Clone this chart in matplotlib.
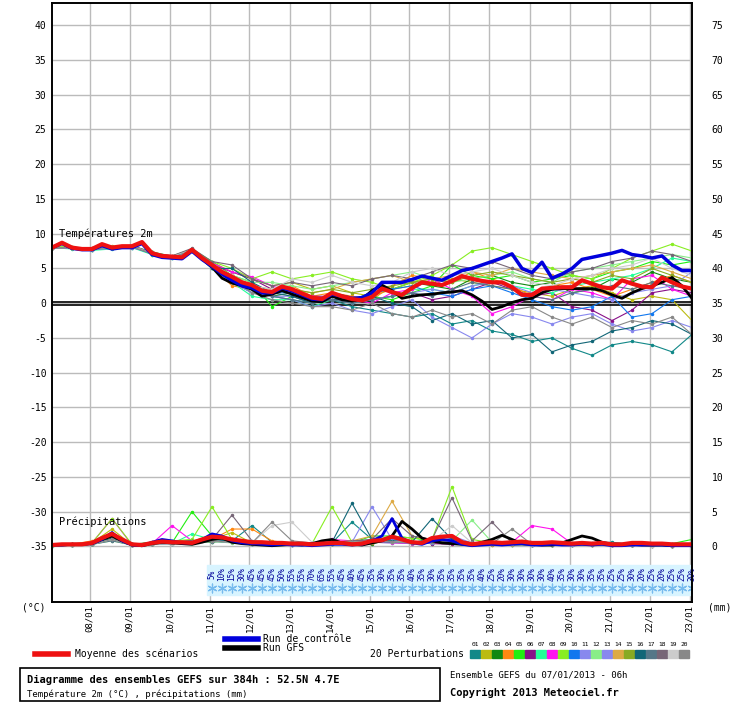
import matplotlib
matplotlib.use("Agg")
import matplotlib.pyplot as plt
import numpy as np

plt.rcParams["font.family"] = ["DejaVu Sans Mono"]

# time axis: hours from 07/01/2013 06h
hours6 = list(range(0, 385, 6))
hours12 = list(range(0, 385, 12))
day_labels = ["08/01", "09/01", "10/01", "11/01", "12/01", "13/01", "14/01", "15/01",
              "16/01", "17/01", "18/01", "19/01", "20/01", "21/01", "22/01", "23/01"]
day_ticks = [22.5 + 24 * k for k in range(16)]

mean_t = [8.0, 8.7, 8.0, 7.8, 7.8, 8.5, 8.0, 8.2, 8.2, 8.8, 7.2, 6.8, 6.7, 6.6, 7.7, 6.5,
          5.5, 4.5, 3.8, 3.0, 2.6, 1.8, 1.6, 2.4, 2.0, 1.4, 0.8, 0.6, 1.5, 1.0, 0.6, 0.4,
          0.9, 2.1, 1.6, 1.2, 2.2, 3.0, 2.8, 2.6, 3.2, 3.9, 3.5, 3.2, 3.0, 3.0, 2.3, 1.2,
          1.2, 2.1, 2.2, 2.3, 2.3, 3.3, 2.8, 2.3, 2.1, 3.3, 2.8, 2.4, 2.3, 3.7, 3.0, 2.4, 2.1]
control_t = [8.0, 8.6, 7.9, 7.7, 7.7, 8.3, 7.8, 8.0, 8.0, 8.6, 7.0, 6.6, 6.5, 6.4, 7.5, 6.3,
             5.3, 4.2, 3.3, 2.5, 2.2, 1.5, 1.5, 2.2, 1.8, 1.2, 0.6, 0.5, 1.3, 1.0, 0.7, 0.8,
             1.5, 3.0, 3.0, 3.0, 3.4, 3.9, 3.6, 3.3, 4.0, 4.7, 5.0, 5.5, 6.0, 6.5, 7.1, 5.0,
             4.4, 5.9, 3.6, 4.2, 5.0, 6.3, 6.6, 6.9, 7.2, 7.6, 7.0, 6.8, 6.5, 6.8, 5.5, 4.7, 4.7]
gfs_t = [8.0, 8.6, 7.9, 7.8, 7.7, 8.4, 7.9, 8.1, 8.1, 8.7, 7.1, 6.7, 6.6, 6.5, 7.6, 6.4,
         5.2, 3.6, 2.9, 2.5, 2.0, 1.0, 1.3, 1.8, 1.3, 0.8, 0.3, 0.2, 1.0, 0.5, 0.3, 0.6,
         1.8, 2.6, 1.8, 0.7, 1.0, 1.2, 1.3, 1.5, 1.6, 1.8, 1.2, 0.3, -0.9, -0.5, 0.1, 0.5,
         0.7, 1.5, 2.0, 2.1, 2.1, 2.1, 2.1, 1.8, 1.2, 0.7, 1.5, 2.1, 2.5, 3.0, 3.7, 2.5, 0.7]

pert_t = [
    [8.0, 7.9, 7.7, 7.9, 8.0, 7.3, 6.5, 7.5, 5.8, 3.0, 1.5, 1.0, 0.5, 0.0, 0.5, -0.5, -1.0, -1.5, -2.0, -1.5, -3.0, -2.5, -4.0, -4.5, -5.5, -5.0, -6.5, -7.5, -6.0, -5.5, -6.0, -7.0, -4.5],
    [8.1, 8.0, 7.9, 8.2, 8.3, 7.0, 6.8, 7.6, 5.9, 4.5, 3.5, 2.5, 3.0, 2.0, 2.5, 1.5, 1.0, 2.0, 2.5, 3.0, 3.5, 3.0, 2.5, 2.0, 1.5, 1.0, 2.0, 2.5, 1.5, 0.5, 1.0, 0.5, -2.5],
    [8.0, 8.1, 7.7, 8.1, 8.1, 7.1, 6.6, 7.8, 5.0, 3.5, 2.0, 1.0, 1.5, 0.5, 1.0, 0.5, 1.5, 2.0, 3.0, 2.5, 2.0, 3.5, 4.0, 3.0, 2.5, 3.0, 1.5, 2.0, 3.5, 3.0, 4.5, 3.5, 3.0],
    [7.9, 8.0, 7.8, 7.9, 8.2, 7.2, 6.7, 7.6, 5.2, 2.5, 2.0, 1.5, 2.5, 1.0, 1.5, 1.0, 0.5, 2.5, 4.0, 3.5, 3.0, 4.5, 3.5, 2.5, 1.0, 2.5, 3.0, 2.0, 1.0, 2.0, 3.0, 4.0, 3.0],
    [8.0, 7.9, 7.8, 8.0, 8.2, 7.4, 6.7, 7.7, 6.0, 4.0, 3.0, -0.5, 1.0, 0.0, 0.5, 0.5, 1.0, 0.5, 1.5, 2.5, 5.5, 4.0, 3.5, 4.0, 3.0, 3.5, 4.0, 3.5, 4.5, 5.0, 6.0, 5.5, 6.0],
    [8.0, 8.0, 7.8, 8.0, 8.1, 7.2, 6.6, 7.8, 5.5, 4.5, 3.5, 2.0, 1.5, 1.0, 1.0, 0.0, 0.5, 1.0, 1.5, 0.5, 1.0, 2.0, 3.0, 2.0, 1.0, 1.5, -0.5, -1.0, -2.5, -1.0, 1.5, 2.0, 1.5],
    [8.0, 7.8, 7.6, 7.8, 8.0, 7.0, 6.5, 7.5, 5.0, 3.0, 1.0, 0.5, 0.5, -0.5, 0.5, 0.0, 0.5, 1.0, 2.0, 2.0, 1.5, 2.5, 3.0, 2.5, 2.0, 1.5, 2.5, 3.0, 3.5, 4.0, 5.0, 6.5, 6.0],
    [8.0, 8.0, 7.9, 8.1, 8.3, 7.2, 6.8, 7.6, 5.8, 4.5, 3.8, 2.5, 1.5, 1.0, 0.5, 0.5, 0.0, 1.5, 2.0, 3.5, 2.0, 1.0, -1.5, -0.5, 1.0, 0.5, 2.0, 1.5, 0.5, 3.5, 4.0, 2.0, 1.0],
    [8.1, 8.1, 7.8, 8.0, 8.2, 7.3, 6.7, 7.8, 6.0, 5.0, 3.5, 4.5, 3.5, 4.0, 4.5, 3.5, 3.0, 2.0, 3.0, 4.0, 5.5, 7.5, 8.0, 7.0, 6.0, 5.0, 4.0, 3.5, 5.0, 6.5, 7.5, 8.5, 7.5],
    [8.0, 8.0, 7.8, 8.0, 8.1, 7.2, 6.7, 7.7, 5.4, 3.5, 2.0, 1.5, 1.5, 0.5, 1.0, 0.5, 1.5, 2.0, 2.5, 1.5, 1.0, 2.0, 2.5, 1.5, 0.5, -0.5, -1.0, -0.5, 1.0, -2.0, -1.5, 0.5, 1.0],
    [7.9, 7.9, 7.7, 7.9, 8.1, 7.1, 6.5, 7.5, 5.0, 3.0, 1.5, 1.0, 1.0, 0.0, 0.5, 0.0, 0.5, 1.0, 1.5, 2.0, 1.5, 2.5, 3.0, 2.5, 1.5, 2.0, 1.5, 1.0, 0.5, 1.5, 2.0, 2.5, 4.5],
    [8.0, 8.0, 7.8, 8.1, 8.2, 7.3, 6.8, 7.8, 5.5, 4.0, 3.0, 3.0, 2.5, 2.0, 2.5, 3.0, 3.5, 4.0, 4.5, 3.5, 3.0, 3.5, 4.0, 4.5, 3.5, 3.0, 4.5, 5.0, 5.5, 6.0, 6.5, 7.0, 6.5],
    [8.0, 7.9, 7.8, 8.0, 8.0, 7.2, 6.6, 7.6, 5.3, 3.0, 2.0, 1.0, 0.5, -0.5, 0.0, -1.0, -1.5, -0.5, 0.5, -2.0, -3.5, -5.0, -3.0, -1.5, -2.0, -3.0, -2.0, -1.5, -3.0, -4.0, -3.5, -2.5, -3.5],
    [8.0, 8.0, 7.9, 8.0, 8.2, 7.2, 6.7, 7.7, 5.6, 4.0, 2.5, 2.0, 2.0, 1.5, 2.0, 3.0, 3.5, 4.0, 3.0, 3.5, 4.0, 4.5, 4.0, 5.0, 4.5, 4.0, 3.5, 4.0, 4.5, 5.0, 5.5, 4.5, 3.5],
    [8.0, 8.0, 7.8, 8.0, 8.1, 7.2, 6.7, 7.7, 5.5, 4.0, 2.5, 1.5, 2.0, 1.5, 2.0, 1.5, 2.0, 2.5, 3.0, 3.5, 3.0, 4.0, 4.5, 4.0, 3.5, 3.0, 3.5, 3.0, 4.0, 3.5, 5.0, 4.0, 3.0],
    [8.0, 8.0, 7.8, 8.0, 8.2, 7.2, 6.7, 7.7, 5.0, 5.0, 3.0, 1.5, 1.0, 0.0, 0.5, 0.5, 1.0, 0.0, -0.5, -2.5, -1.5, -3.0, -2.5, -5.0, -4.5, -7.0, -6.0, -5.5, -4.0, -3.5, -2.5, -3.0, -4.5],
    [8.0, 8.0, 7.8, 7.9, 8.1, 7.1, 6.6, 7.6, 5.5, 3.5, 2.0, 1.0, 0.5, 0.0, 0.5, 0.0, 0.5, 1.0, 1.5, 1.0, 2.0, 3.0, 2.5, 2.0, 1.0, 0.5, 1.5, 2.0, 2.5, 2.0, 3.0, 2.5, 2.0],
    [8.0, 8.0, 7.8, 8.1, 8.3, 7.3, 6.8, 7.9, 6.0, 5.5, 3.5, 2.5, 3.0, 2.5, 3.0, 2.5, 3.5, 4.0, 3.5, 4.5, 5.5, 5.0, 6.0, 5.0, 4.0, 3.5, 4.5, 5.0, 6.0, 6.5, 7.5, 7.0, 6.0],
    [8.0, 8.0, 7.8, 8.0, 8.2, 7.2, 6.7, 7.7, 5.5, 4.0, 2.5, 2.0, 3.5, 3.0, 4.0, 3.0, 2.5, 3.0, 4.5, 5.0, 4.0, 4.5, 5.0, 4.0, 3.0, 2.5, 3.5, 4.0, 5.0, 5.5, 6.5, 5.0, 4.0],
    [8.0, 8.0, 7.8, 8.0, 8.1, 7.2, 6.6, 7.6, 5.2, 3.5, 1.5, 0.5, 0.0, -0.5, -0.5, -1.0, 0.0, -1.5, -2.0, -1.0, -2.0, -1.5, -3.0, -1.0, -0.5, -2.0, -3.0, -2.0, -3.5, -2.5, -3.0, -2.0, -4.5],
]

mean_p = [0.2, 0.3, 0.3, 0.3, 0.5, 1.2, 1.8, 1.0, 0.3, 0.2, 0.5, 0.7, 0.6, 0.6, 0.5, 1.0,
          1.4, 1.3, 1.0, 0.8, 0.6, 0.6, 0.5, 0.5, 0.4, 0.4, 0.3, 0.4, 0.5, 0.5, 0.3, 0.4,
          0.8, 0.9, 1.4, 1.0, 0.6, 0.5, 1.2, 1.4, 1.5, 0.6, 0.3, 0.5, 0.6, 0.5, 0.6, 0.7,
          0.5, 0.5, 0.6, 0.5, 0.4, 0.5, 0.4, 0.5, 0.3, 0.3, 0.5, 0.5, 0.4, 0.4, 0.3, 0.3, 0.3]
control_p = [0.2, 0.2, 0.3, 0.3, 0.4, 1.0, 2.0, 0.8, 0.2, 0.1, 0.6, 1.0, 0.8, 0.5, 0.5, 1.0,
             1.8, 1.5, 0.8, 0.5, 0.4, 0.3, 0.2, 0.3, 0.2, 0.2, 0.1, 0.2, 0.3, 0.3, 0.2, 0.3,
             0.8, 1.5, 4.0, 1.2, 0.5, 0.3, 0.8, 1.0, 0.8, 0.3, 0.1, 0.2, 0.3, 0.2, 0.3, 0.4,
             0.2, 0.2, 0.3, 0.2, 0.2, 0.3, 0.2, 0.3, 0.1, 0.1, 0.2, 0.2, 0.2, 0.2, 0.1, 0.1, 0.1]
gfs_p = [0.2, 0.2, 0.3, 0.3, 0.4, 1.0, 1.5, 0.8, 0.2, 0.1, 0.4, 0.6, 0.5, 0.4, 0.3, 0.6,
         1.0, 1.2, 0.6, 0.4, 0.3, 0.2, 0.1, 0.2, 0.3, 0.2, 0.4, 0.8, 1.0, 0.5, 0.3, 0.2,
         0.5, 0.8, 1.5, 3.6, 2.5, 1.2, 0.8, 0.5, 0.4, 0.3, 0.2, 0.6, 1.0, 1.6, 1.0, 0.4,
         0.3, 0.2, 0.2, 0.5, 1.0, 1.5, 1.2, 0.6, 0.3, 0.2, 0.3, 0.2, 0.2, 0.2, 0.1, 0.2, 0.1]

pert_p = [
    [0.2, 0.3, 0.4, 1.0, 0.3, 0.5, 0.6, 0.8, 1.2, 0.8, 3.0, 0.6, 0.4, 0.3, 0.5, 3.5, 1.0, 0.6, 0.5, 1.2, 0.8, 0.4, 0.5, 0.3, 0.4, 0.2, 0.3, 0.5, 0.6, 0.3, 0.2, 0.3, 0.2],
    [0.2, 0.4, 0.5, 2.5, 0.2, 0.4, 0.8, 0.6, 1.0, 2.0, 0.5, 0.4, 0.3, 0.5, 0.4, 0.3, 0.6, 0.8, 0.5, 0.4, 0.6, 0.3, 0.2, 0.4, 0.3, 0.2, 0.3, 0.2, 0.4, 0.2, 0.3, 0.2, 0.2],
    [0.1, 0.2, 0.3, 1.5, 0.3, 0.6, 0.5, 0.8, 0.6, 1.0, 0.4, 0.3, 0.2, 0.4, 0.3, 0.5, 0.4, 1.0, 0.6, 0.8, 0.5, 0.3, 0.4, 0.2, 0.3, 0.2, 0.5, 0.3, 0.2, 0.3, 0.2, 0.1, 0.1],
    [0.2, 0.3, 0.8, 1.2, 0.2, 0.3, 0.6, 0.5, 1.0, 2.5, 2.5, 0.8, 0.4, 0.3, 0.6, 0.4, 0.5, 0.8, 0.6, 0.5, 0.4, 0.3, 0.2, 0.3, 0.2, 0.4, 0.3, 0.2, 0.3, 0.2, 0.1, 0.2, 0.1],
    [0.2, 0.2, 0.3, 2.0, 0.2, 0.4, 0.5, 5.0, 1.5, 0.8, 0.5, 0.4, 0.3, 0.4, 0.6, 0.5, 1.5, 1.5, 1.2, 0.8, 0.6, 0.4, 0.5, 0.3, 0.2, 0.3, 0.4, 0.3, 0.2, 0.3, 0.2, 0.4, 1.0],
    [0.1, 0.2, 0.3, 1.0, 0.2, 0.3, 0.4, 0.6, 0.8, 0.6, 0.4, 0.3, 0.2, 0.3, 0.4, 0.6, 1.0, 0.8, 0.6, 0.4, 0.3, 0.5, 0.4, 0.3, 0.2, 0.3, 0.2, 0.4, 0.3, 0.2, 0.3, 0.2, 0.1],
    [0.2, 0.3, 0.4, 1.5, 0.3, 0.5, 0.4, 1.8, 1.0, 0.6, 0.5, 0.4, 0.3, 0.4, 0.5, 0.4, 0.6, 0.5, 0.4, 0.6, 0.8, 0.5, 0.4, 0.3, 0.4, 0.3, 0.2, 0.3, 0.4, 0.3, 0.2, 0.3, 0.2],
    [0.2, 0.3, 0.5, 4.0, 0.2, 0.4, 3.0, 0.8, 1.0, 0.6, 0.5, 0.4, 0.3, 0.5, 1.0, 0.8, 0.6, 0.5, 0.4, 0.8, 0.6, 0.4, 0.5, 0.6, 3.0, 2.5, 0.4, 0.3, 0.2, 0.3, 0.2, 0.3, 0.2],
    [0.2, 0.3, 0.5, 4.0, 0.3, 0.5, 0.8, 1.0, 5.7, 1.0, 0.6, 0.4, 0.3, 0.4, 5.7, 0.6, 0.8, 1.5, 1.2, 1.0, 8.6, 1.0, 0.5, 0.4, 0.3, 0.2, 0.3, 0.4, 0.3, 0.2, 0.3, 0.2, 0.2],
    [0.1, 0.2, 0.3, 1.0, 0.2, 0.3, 0.5, 0.8, 1.0, 0.6, 0.4, 0.3, 0.2, 0.3, 0.4, 0.5, 0.8, 1.0, 0.6, 0.5, 1.2, 0.4, 0.3, 0.2, 0.3, 0.2, 0.3, 0.2, 0.3, 0.2, 0.1, 0.2, 0.1],
    [0.2, 0.2, 0.4, 1.2, 0.2, 0.4, 0.5, 0.7, 0.8, 0.6, 0.5, 0.3, 0.3, 0.4, 0.5, 0.6, 0.7, 0.6, 0.5, 0.7, 1.5, 0.5, 0.4, 0.3, 0.2, 0.3, 0.4, 0.3, 0.2, 0.3, 0.2, 0.2, 0.2],
    [0.1, 0.2, 0.3, 0.8, 0.2, 0.3, 0.4, 0.6, 0.7, 0.5, 0.4, 0.3, 0.2, 0.3, 0.4, 0.5, 0.6, 0.8, 0.5, 0.6, 0.8, 3.8, 0.6, 0.4, 0.3, 0.2, 0.3, 0.2, 0.3, 0.2, 0.2, 0.1, 0.1],
    [0.2, 0.2, 0.3, 1.0, 0.2, 0.3, 0.4, 0.6, 0.8, 0.6, 0.4, 0.3, 0.2, 0.4, 0.5, 0.6, 5.7, 1.0, 0.6, 0.5, 1.0, 0.5, 0.4, 0.3, 0.2, 0.3, 0.2, 0.3, 0.2, 0.2, 0.2, 0.1, 0.1],
    [0.2, 0.3, 0.4, 1.2, 0.3, 0.4, 0.6, 0.8, 1.5, 1.0, 0.5, 0.4, 0.3, 0.5, 0.6, 0.8, 1.5, 6.5, 1.5, 0.8, 0.6, 0.4, 0.3, 0.2, 0.3, 0.2, 0.3, 0.2, 0.3, 0.2, 0.2, 0.1, 0.1],
    [0.2, 0.2, 0.3, 1.0, 0.2, 0.4, 0.5, 0.6, 0.8, 0.7, 0.5, 0.4, 0.3, 0.4, 0.5, 0.6, 0.8, 0.7, 0.5, 0.6, 0.8, 0.5, 0.4, 0.3, 0.2, 0.3, 0.2, 0.3, 0.2, 0.2, 0.1, 0.2, 0.1],
    [0.2, 0.3, 0.4, 1.2, 0.3, 0.4, 0.6, 0.8, 1.0, 0.8, 0.6, 0.4, 0.3, 0.5, 0.6, 6.2, 1.0, 0.8, 0.6, 4.0, 1.0, 0.5, 0.4, 0.3, 0.2, 0.3, 0.2, 0.3, 0.2, 0.2, 0.2, 0.1, 0.1],
    [0.2, 0.2, 0.3, 0.8, 0.2, 0.3, 0.4, 0.6, 0.7, 0.6, 0.5, 0.4, 0.3, 0.4, 0.5, 0.6, 0.7, 0.6, 0.5, 0.6, 0.7, 0.5, 0.4, 0.3, 0.2, 0.3, 0.2, 0.3, 0.2, 0.2, 0.1, 0.1, 0.1],
    [0.2, 0.3, 0.4, 1.5, 0.3, 0.4, 0.6, 0.8, 1.0, 4.5, 0.8, 0.6, 0.4, 0.5, 0.6, 0.8, 1.0, 4.0, 1.5, 1.0, 7.0, 0.8, 3.5, 0.5, 0.3, 0.2, 0.3, 0.2, 0.3, 0.2, 0.2, 0.1, 0.1],
    [0.2, 0.2, 0.3, 1.0, 0.2, 0.3, 0.4, 0.6, 0.8, 0.6, 0.5, 3.0, 3.5, 0.6, 0.5, 0.6, 0.8, 0.7, 0.6, 0.8, 3.0, 0.5, 0.4, 0.3, 0.2, 0.3, 0.2, 0.3, 0.2, 0.2, 0.1, 0.1, 0.1],
    [0.2, 0.2, 0.3, 1.0, 0.2, 0.3, 0.5, 0.6, 0.8, 0.6, 0.5, 3.5, 0.8, 0.5, 0.4, 0.6, 0.8, 0.7, 0.5, 0.6, 0.8, 0.5, 0.4, 2.5, 0.3, 0.2, 0.3, 0.2, 0.3, 0.2, 0.2, 0.1, 0.1],
]

pert_colors = ["#118888", "#bbbb11", "#118811", "#ff8811", "#22ee11", "#881188", "#22ff99",
               "#ff11ee", "#88ee22", "#1177ee", "#8888ee", "#88ee88", "#8888ee", "#ddaa44",
               "#88aa22", "#116677", "#557788", "#776677", "#cccccc", "#888888"]

snow_hours = list(range(96, 385, 6))
snow_pct = [5, 10, 15, 30, 45, 45, 45, 50, 55, 55, 70, 65, 55, 45, 40, 45, 35, 30, 35, 35,
            40, 35, 30, 35, 35, 35, 35, 40, 25, 20, 30, 30, 30, 30, 40, 35, 30, 30, 35, 35,
            25, 25, 30, 20, 25, 20, 25, 25, 30]

P0 = -35  # precipitation baseline on the temperature scale

fig = plt.figure(figsize=(7.41, 7.03), dpi=100)
ax = fig.add_axes([52 / 741, 1 - 602 / 703, 640 / 741, 599 / 703])
ax.set_xlim(0, 384)
ax.set_ylim(-43.0, 43.2)

for t in day_ticks:
    ax.axvline(t, color="#bbbbbb", lw=1, zorder=0)
for v in range(-35, 45, 5):
    ax.axhline(v, color="#bbbbbb", lw=1, zorder=0)
ax.axhline(0.2, color="black", lw=1.2, zorder=1)
ax.axhline(-0.2, color="black", lw=1.2, zorder=1)

# temperatures
for vals, c in zip(pert_t, pert_colors):
    ax.plot(hours12, vals, color=c, lw=0.8, marker="o", ms=1.5, zorder=2)
ax.plot(hours6, gfs_t, color="black", lw=2, zorder=3)
ax.plot(hours6, control_t, color="#0000dd", lw=2.5, zorder=3)
ax.plot(hours6, mean_t, color="#ee1111", lw=3, zorder=4)

# precipitations
for vals, c in zip(pert_p, pert_colors):
    ax.plot(hours12, [P0 + v for v in vals], color=c, lw=0.8, marker="o", ms=1.5, zorder=2)
ax.plot(hours6, [P0 + v for v in gfs_p], color="black", lw=2, zorder=3)
ax.plot(hours6, [P0 + v for v in control_p], color="#0000dd", lw=2, zorder=3)
ax.plot(hours6, [P0 + v for v in mean_p], color="#ee1111", lw=3, zorder=4)

ax.text(4, 9.3, "Températures 2m", fontsize=7.5, va="bottom")
ax.text(4, -32.2, "Précipitations", fontsize=7.5, va="bottom")

# snow probability row
ax.fill_between([snow_hours[0] - 3, 384], -42.0, -37.7, color="#d8f4ff", zorder=1)
ax.scatter(snow_hours, [-41.0] * len(snow_hours), marker=(6, 2, 0), s=40,
           color="#77bbee", lw=0.9, zorder=2)
for h, p in zip(snow_hours, snow_pct):
    ax.text(h, -39.0, f"{p}%", rotation=90, fontsize=5.5, color="#000099",
            ha="center", va="center", zorder=3)

ax.set_xticks(day_ticks)
ax.set_xticklabels(day_labels, rotation=90, fontsize=6.5)
yt = list(range(-35, 45, 5))
ax.set_yticks(yt)
ax.set_yticklabels([str(v) for v in yt], fontsize=7)
ax.tick_params(axis="y", length=0, pad=4)
ax.tick_params(axis="x", length=0, pad=2)
ax2 = ax.twinx()
ax2.set_ylim(ax.get_ylim())
ax2.set_yticks(yt)
ax2.set_yticklabels([str(v + 35) for v in yt], fontsize=7)
ax2.tick_params(length=0, pad=14)
for a in (ax, ax2):
    for s in a.spines.values():
        s.set_linewidth(1.2)

fig.text(22 / 741, 1 - 607 / 703, "(°C)", fontsize=7, va="center")
fig.text(708 / 741, 1 - 607 / 703, "(mm)", fontsize=7, va="center")

# legend
def fline(x0, x1, y, color, lw):
    fig.add_artist(plt.Line2D([x0 / 741, x1 / 741], [1 - y / 703, 1 - y / 703],
                              color=color, lw=lw))

fline(35, 68, 654, "#ee1111", 4)
fig.text(75 / 741, 1 - 654 / 703, "Moyenne des scénarios", fontsize=7, va="center")
fline(225, 258, 639, "#0000dd", 4)
fig.text(263 / 741, 1 - 639 / 703, "Run de contrôle", fontsize=7, va="center")
fline(225, 258, 648, "black", 4)
fig.text(263 / 741, 1 - 648 / 703, "Run GFS", fontsize=7, va="center")
fig.text(370 / 741, 1 - 654 / 703, "20 Perturbations", fontsize=7, va="center")
for i, c in enumerate(pert_colors):
    x0 = 470 + i * 11
    fig.add_artist(plt.Rectangle((x0 / 741, 1 - 658 / 703), 10 / 741, 8 / 703, color=c))
    fig.text((x0 + 5) / 741, 1 - 645 / 703, f"{i + 1:02d}", fontsize=4.5, ha="center", va="center")

fig.add_artist(plt.Rectangle((20 / 741, 1 - 701 / 703), 420 / 741, 33 / 703,
                             fill=False, ec="black", lw=1.2))
fig.text(27 / 741, 1 - 680 / 703, "Diagramme des ensembles GEFS sur 384h : 52.5N 4.7E",
         fontsize=7.5, weight="bold", va="center")
fig.text(27 / 741, 1 - 694 / 703, "Température 2m (°C) , précipitations (mm)",
         fontsize=6.5, va="center")
fig.text(450 / 741, 1 - 675 / 703, "Ensemble GEFS du 07/01/2013 - 06h", fontsize=6.5, va="center")
fig.text(450 / 741, 1 - 693 / 703, "Copyright 2013 Meteociel.fr", fontsize=7.5,
         weight="bold", va="center")

fig.savefig("out.png", dpi=100)
